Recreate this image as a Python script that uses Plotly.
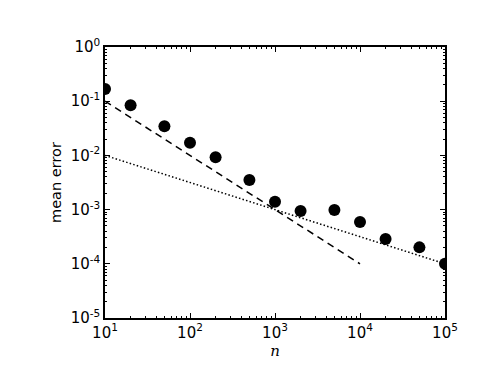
import plotly.graph_objects as go

# Measured mean error against sample size n
n_vals = [10, 20, 50, 100, 200, 500, 1000, 2000, 5000, 10000, 20000, 50000, 100000]
err_vals = [0.168, 0.084, 0.0344, 0.0171, 0.0092, 0.0035, 0.0014, 0.00094,
            0.00098, 0.00059, 0.000287, 0.000201, 0.0001]

# Reference slopes (end points only)
dash_n = [10, 10000]
dash_err = [0.1, 0.0001]
dot_n = [10, 100000]
dot_err = [0.01, 0.0001]

x_major = [10, 100, 1000, 10000, 100000]
x_labels = ["10<sup>1</sup>", "10<sup>2</sup>", "10<sup>3</sup>", "10<sup>4</sup>", "10<sup>5</sup>"]
y_major = [1e-5, 1e-4, 1e-3, 1e-2, 1e-1, 1]
y_labels = ["10<sup>-5</sup>", "10<sup>-4</sup>", "10<sup>-3</sup>",
            "10<sup>-2</sup>", "10<sup>-1</sup>", "10<sup>0</sup>"]

x_minor = [m * 10 ** k for k in range(1, 5) for m in range(2, 10)]
y_minor = [m * 10.0 ** k for k in range(-5, 0) for m in range(2, 10)]

fig = go.Figure()
fig.add_trace(go.Scatter(x=dash_n, y=dash_err, mode="lines",
                         line=dict(color="black", width=1.5, dash="7px,5px")))
fig.add_trace(go.Scatter(x=dot_n, y=dot_err, mode="lines",
                         line=dict(color="black", width=1.5, dash="1.5px,2.2px")))
fig.add_trace(go.Scatter(x=n_vals, y=err_vals, mode="markers",
                         marker=dict(color="black", size=12)))

axis_common = dict(
    type="log", showline=True, linecolor="black", linewidth=1.5,
    mirror="ticks", ticks="inside", ticklen=5, tickcolor="black", tickwidth=1,
    showgrid=False, zeroline=False, tickmode="array",
    tickfont=dict(family="DejaVu Sans", size=15, color="black"),
)

fig.update_xaxes(
    **axis_common, range=[1, 5], tickvals=x_major, ticktext=x_labels,
    minor=dict(tickmode="array", tickvals=x_minor, ticks="inside", ticklen=2.5,
               tickcolor="black", showgrid=False),
    title=dict(text="<i>n</i>", font=dict(family="DejaVu Serif", size=15, color="black"),
               standoff=5),
)
fig.update_yaxes(
    **axis_common, range=[-5, 0], tickvals=y_major, ticktext=y_labels,
    minor=dict(tickmode="array", tickvals=y_minor, ticks="inside", ticklen=2.5,
               tickcolor="black", showgrid=False),
    title=dict(text="mean error", font=dict(family="DejaVu Sans", size=14.5, color="black"),
               standoff=6),
)

fig.update_layout(
    width=485, height=388, showlegend=False,
    margin=dict(l=97, r=48, t=39, b=78),
    plot_bgcolor="white", paper_bgcolor="white",
)

fig.write_html("out.html")
